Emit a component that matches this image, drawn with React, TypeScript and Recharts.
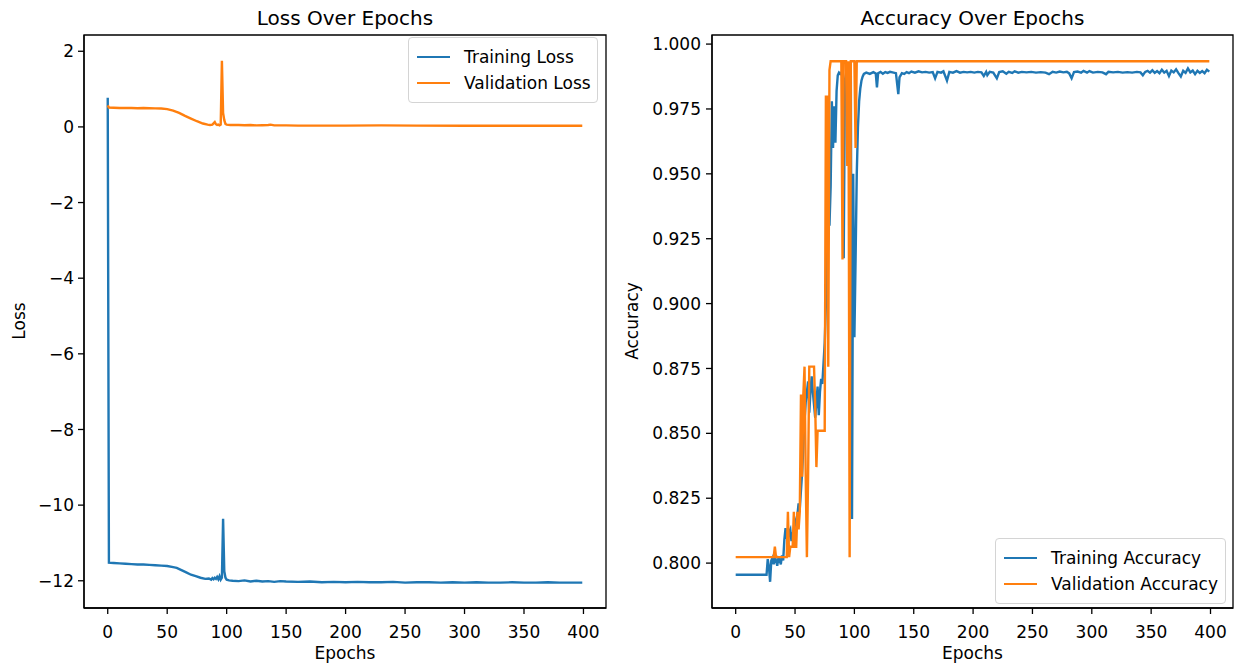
import React from "react";
import { LineChart, Line, XAxis, YAxis, Legend, Label, ReferenceArea } from "recharts";

// [epoch, value] pairs
const trainLoss: [number, number][] = [
  [0, 0.77], [1, -11.52], [5, -11.53], [10, -11.54], [15, -11.55], [20, -11.56],
  [25, -11.57], [30, -11.57], [35, -11.58], [40, -11.59], [45, -11.6], [50, -11.61],
  [55, -11.64], [58, -11.66], [62, -11.72], [66, -11.78], [70, -11.84], [74, -11.88],
  [78, -11.92], [82, -11.95], [85, -11.94], [87, -11.97], [88, -11.93], [89, -11.96],
  [90, -11.92], [91, -11.95], [92, -11.9], [93, -11.96], [94, -11.88], [95, -11.97],
  [96, -11.92], [97, -10.36], [98, -11.75], [99, -11.92], [100, -11.97], [102, -11.99],
  [105, -12.0], [110, -12.01], [115, -11.99], [120, -12.02], [125, -12.0], [130, -12.02],
  [135, -12.01], [140, -12.03], [145, -12.01], [150, -12.02], [160, -12.03], [170, -12.02],
  [180, -12.04], [190, -12.03], [200, -12.04], [210, -12.03], [220, -12.04], [230, -12.04],
  [240, -12.03], [250, -12.05], [260, -12.04], [270, -12.04], [280, -12.05], [290, -12.04],
  [300, -12.05], [310, -12.04], [320, -12.05], [330, -12.05], [340, -12.04], [350, -12.05],
  [360, -12.05], [370, -12.04], [380, -12.05], [390, -12.05], [399, -12.05],
];

const valLoss: [number, number][] = [
  [0, 0.57], [1, 0.51], [5, 0.505], [10, 0.5], [15, 0.5], [20, 0.5], [25, 0.495],
  [30, 0.5], [35, 0.495], [40, 0.49], [45, 0.485], [50, 0.47], [55, 0.43], [60, 0.37],
  [65, 0.29], [70, 0.22], [75, 0.15], [80, 0.09], [84, 0.06], [86, 0.05], [88, 0.06],
  [90, 0.13], [91, 0.07], [92, 0.05], [93, 0.06], [94, 0.04], [95, 0.06], [96, 1.75],
  [97, 0.37], [98, 0.18], [99, 0.08], [100, 0.06], [103, 0.05], [106, 0.05], [110, 0.05],
  [115, 0.045], [120, 0.05], [125, 0.04], [130, 0.045], [135, 0.05], [137, 0.06],
  [140, 0.04], [150, 0.04], [160, 0.035], [180, 0.035], [200, 0.035], [230, 0.04],
  [260, 0.035], [300, 0.03], [350, 0.03], [399, 0.03],
];

const trainAcc: [number, number][] = [
  [0, 0.7955], [26, 0.7955], [27, 0.8015], [28, 0.7985], [29, 0.7928], [30, 0.801],
  [31, 0.802], [32, 0.7995], [33, 0.8025], [34, 0.801], [35, 0.799], [36, 0.802],
  [37, 0.8015], [38, 0.7995], [39, 0.803], [40, 0.801], [41, 0.809], [42, 0.8135],
  [43, 0.81], [44, 0.808], [45, 0.812], [46, 0.813], [47, 0.8085], [48, 0.8115],
  [49, 0.8125], [50, 0.815], [51, 0.817], [52, 0.8185], [53, 0.823], [54, 0.821],
  [55, 0.828], [56, 0.835], [57, 0.845], [58, 0.855], [59, 0.862], [60, 0.866],
  [61, 0.87], [62, 0.858], [63, 0.866], [64, 0.872], [65, 0.866], [66, 0.861],
  [67, 0.856], [68, 0.862], [69, 0.868], [70, 0.857], [71, 0.866], [72, 0.871],
  [73, 0.869], [74, 0.877], [75, 0.885], [76, 0.9], [77, 0.928], [78, 0.955],
  [79, 0.93], [80, 0.945], [81, 0.978], [82, 0.96], [83, 0.976], [84, 0.962],
  [85, 0.982], [86, 0.988], [87, 0.989], [88, 0.9885], [89, 0.989], [90, 0.9885],
  [91, 0.9175], [92, 0.986], [93, 0.9885], [94, 0.989], [95, 0.988], [96, 0.97],
  [97, 0.989], [98, 0.817], [99, 0.95], [100, 0.887], [101, 0.917], [102, 0.95],
  [103, 0.968], [104, 0.978], [105, 0.983], [106, 0.986], [107, 0.9875], [108, 0.9885],
  [110, 0.989], [113, 0.9885], [116, 0.9892], [118, 0.9887], [119, 0.9833], [120, 0.9888],
  [122, 0.9893], [124, 0.9886], [126, 0.9892], [128, 0.9889], [130, 0.9893], [133, 0.989],
  [135, 0.9888], [137, 0.9807], [138, 0.9872], [140, 0.9888], [142, 0.9885], [144, 0.9892],
  [146, 0.9888], [148, 0.9894], [151, 0.989], [154, 0.9895], [157, 0.9891], [160, 0.9893],
  [163, 0.989], [166, 0.9892], [168, 0.9868], [170, 0.9893], [173, 0.989], [175, 0.9895],
  [178, 0.9859], [180, 0.9893], [183, 0.989], [186, 0.9896], [189, 0.989], [192, 0.9893],
  [195, 0.9891], [198, 0.9893], [201, 0.989], [204, 0.9893], [207, 0.9891], [209, 0.9877],
  [211, 0.9893], [212, 0.988], [214, 0.9893], [217, 0.989], [220, 0.9868], [222, 0.9892],
  [225, 0.9895], [228, 0.9886], [230, 0.9893], [233, 0.9889], [235, 0.9895], [238, 0.989],
  [241, 0.9893], [245, 0.9891], [249, 0.9893], [253, 0.989], [257, 0.9892], [261, 0.989],
  [264, 0.9884], [267, 0.9893], [270, 0.989], [273, 0.9894], [276, 0.9891], [279, 0.9893],
  [281, 0.9887], [283, 0.9868], [285, 0.9892], [288, 0.9894], [291, 0.989], [293, 0.9897],
  [296, 0.989], [298, 0.9896], [301, 0.989], [305, 0.9893], [309, 0.9891], [312, 0.9884],
  [314, 0.9893], [318, 0.9891], [322, 0.9893], [326, 0.989], [330, 0.9892], [334, 0.989],
  [338, 0.9893], [341, 0.9891], [343, 0.988], [345, 0.9893], [347, 0.9897], [349, 0.989],
  [351, 0.9899], [353, 0.9889], [355, 0.9896], [357, 0.9888], [359, 0.9901], [361, 0.989],
  [363, 0.9897], [365, 0.9877], [367, 0.9898], [369, 0.9891], [371, 0.9903], [373, 0.9888],
  [375, 0.9875], [377, 0.9897], [379, 0.9889], [381, 0.9906], [383, 0.9891], [385, 0.9898],
  [387, 0.9884], [389, 0.9897], [391, 0.9889], [393, 0.9896], [395, 0.9888], [397, 0.9901],
  [399, 0.9894],
];

const valAcc: [number, number][] = [
  [0, 0.8023], [32, 0.8023], [33, 0.8063], [34, 0.8023], [43, 0.8023], [44, 0.8198],
  [45, 0.8023], [46, 0.8063], [48, 0.8063], [49, 0.8198], [50, 0.8063], [51, 0.8063],
  [52, 0.8198], [53, 0.813], [54, 0.8198], [55, 0.865], [56, 0.8333], [57, 0.865],
  [58, 0.8757], [59, 0.8333], [60, 0.8023], [61, 0.8333], [62, 0.8757], [66, 0.8757],
  [67, 0.86], [68, 0.837], [69, 0.851], [75, 0.851], [76, 0.9797], [77, 0.9797],
  [78, 0.8757], [79, 0.99], [80, 0.9934], [89, 0.9934], [90, 0.917], [91, 0.9934],
  [93, 0.9934], [94, 0.953], [95, 0.9934], [96, 0.8023], [97, 0.9934], [100, 0.9934],
  [101, 0.96], [102, 0.9934], [399, 0.9934],
];

const epochTicks = [0, 50, 100, 150, 200, 250, 300, 350, 400];
const lossTicks = [2, 0, -2, -4, -6, -8, -10, -12];
const accTicks = [0.8, 0.825, 0.85, 0.875, 0.9, 0.925, 0.95, 0.975, 1.0];

const epochDomain: [number, number] = [-19.95, 418.95];
const lossDomain: [number, number] = [-12.72, 2.43];
const accDomain: [number, number] = [0.7827, 1.0035];

const toRows = (pairs: [number, number][]) => pairs.map(([epoch, value]) => ({ epoch, value }));

const FONT = "DejaVu Sans, sans-serif";
const FS = 17;
const BLUE = "#1f77b4";
const ORANGE = "#ff7f0e";
const tickStyle = { fontSize: FS, fill: "#000", fontFamily: FONT };
const axisLine = { stroke: "#000", strokeWidth: 1.3 };

function LegendBox(props: any) {
  const { payload } = props;
  return (
    <div
      style={{
        boxSizing: "border-box",
        background: "rgba(255,255,255,0.8)",
        border: "1px solid #d4d4d4",
        borderRadius: 4,
        padding: "6px 8px",
        fontFamily: FONT,
        fontSize: FS,
        lineHeight: "20px",
        whiteSpace: "nowrap",
        color: "#000",
      }}
    >
      {(payload || []).map((p: any) => (
        <div key={p.value} style={{ display: "flex", alignItems: "center", height: 26 }}>
          <span style={{ display: "inline-block", flex: "none", width: 33, borderTop: `2.4px solid ${p.color}`, marginRight: 14 }} />
          <span>{p.value}</span>
        </div>
      ))}
    </div>
  );
}

const minus = (v: number) => String(v).replace("-", "\u2212");

export default function App() {
  return (
    <div style={{ position: "absolute", left: 0, top: 0, width: 1235, height: 666, background: "#fff" }}>
      <div style={{ position: "absolute", left: 0, top: 0 }}>
        <LineChart width={617} height={666} margin={{ top: 35, right: 11, left: 0, bottom: 0 }}>
          <XAxis
            dataKey="epoch"
            type="number"
            domain={epochDomain}
            allowDataOverflow
            ticks={epochTicks}
            interval={0}
            height={58}
            tickSize={6}
            tickMargin={12}
            tick={tickStyle}
            axisLine={axisLine}
            tickLine={axisLine}
          >
            <Label value="Epochs" position="insideBottom" offset={7} style={{ fontSize: FS, fill: "#000", fontFamily: FONT }} />
          </XAxis>
          <YAxis
            type="number"
            domain={lossDomain}
            allowDataOverflow
            ticks={lossTicks}
            interval={0}
            width={84}
            tickSize={6}
            tickMargin={4}
            tick={tickStyle}
            tickFormatter={minus}
            axisLine={axisLine}
            tickLine={axisLine}
          >
            <Label
              content={() => (
                <text x={25} y={321} transform="rotate(-90 25 321)" textAnchor="middle" fontSize={FS} fontFamily={FONT} fill="#000">
                  Loss
                </text>
              )}
            />
          </YAxis>
          <ReferenceArea
            x1={epochDomain[0]}
            x2={epochDomain[1]}
            y1={lossDomain[0]}
            y2={lossDomain[1]}
            ifOverflow="visible"
            fill="none"
            fillOpacity={0}
            stroke="#000"
            strokeWidth={1.3}
            strokeOpacity={1}
            label={{ value: "Loss Over Epochs", position: "top", offset: 10, fontSize: 20, fill: "#000", fontFamily: FONT }}
          />
          <Legend
            layout="vertical"
            align="center"
            verticalAlign="middle"
            content={<LegendBox />}
            wrapperStyle={{ left: 408, top: 37, width: 190, height: "auto" }}
          />
          <Line data={toRows(trainLoss)} dataKey="value" name="Training Loss" type="linear" stroke={BLUE} strokeWidth={2.4} dot={false} isAnimationActive={false} />
          <Line data={toRows(valLoss)} dataKey="value" name="Validation Loss" type="linear" stroke={ORANGE} strokeWidth={2.4} dot={false} isAnimationActive={false} />
        </LineChart>
      </div>
      <div style={{ position: "absolute", left: 617, top: 0 }}>
        <LineChart width={618} height={666} margin={{ top: 35, right: 2, left: 0, bottom: 0 }}>
          <XAxis
            dataKey="epoch"
            type="number"
            domain={epochDomain}
            allowDataOverflow
            ticks={epochTicks}
            interval={0}
            height={58}
            tickSize={6}
            tickMargin={12}
            tick={tickStyle}
            axisLine={axisLine}
            tickLine={axisLine}
          >
            <Label value="Epochs" position="insideBottom" offset={7} style={{ fontSize: FS, fill: "#000", fontFamily: FONT }} />
          </XAxis>
          <YAxis
            type="number"
            domain={accDomain}
            allowDataOverflow
            ticks={accTicks}
            interval={0}
            width={95}
            tickSize={6}
            tickMargin={5}
            tick={tickStyle}
            tickFormatter={(v: number) => v.toFixed(3)}
            axisLine={axisLine}
            tickLine={axisLine}
          >
            <Label
              content={() => (
                <text x={21} y={321} transform="rotate(-90 21 321)" textAnchor="middle" fontSize={FS} fontFamily={FONT} fill="#000">
                  Accuracy
                </text>
              )}
            />
          </YAxis>
          <ReferenceArea
            x1={epochDomain[0]}
            x2={epochDomain[1]}
            y1={accDomain[0]}
            y2={accDomain[1]}
            ifOverflow="visible"
            fill="none"
            fillOpacity={0}
            stroke="#000"
            strokeWidth={1.3}
            strokeOpacity={1}
            label={{ value: "Accuracy Over Epochs", position: "top", offset: 10, fontSize: 20, fill: "#000", fontFamily: FONT }}
          />
          <Legend
            layout="vertical"
            align="center"
            verticalAlign="middle"
            content={<LegendBox />}
            wrapperStyle={{ left: 378, top: 538, width: 231, height: "auto" }}
          />
          <Line data={toRows(trainAcc)} dataKey="value" name="Training Accuracy" type="linear" stroke={BLUE} strokeWidth={2.4} dot={false} isAnimationActive={false} />
          <Line data={toRows(valAcc)} dataKey="value" name="Validation Accuracy" type="linear" stroke={ORANGE} strokeWidth={2.4} dot={false} isAnimationActive={false} />
        </LineChart>
      </div>
    </div>
  );
}
